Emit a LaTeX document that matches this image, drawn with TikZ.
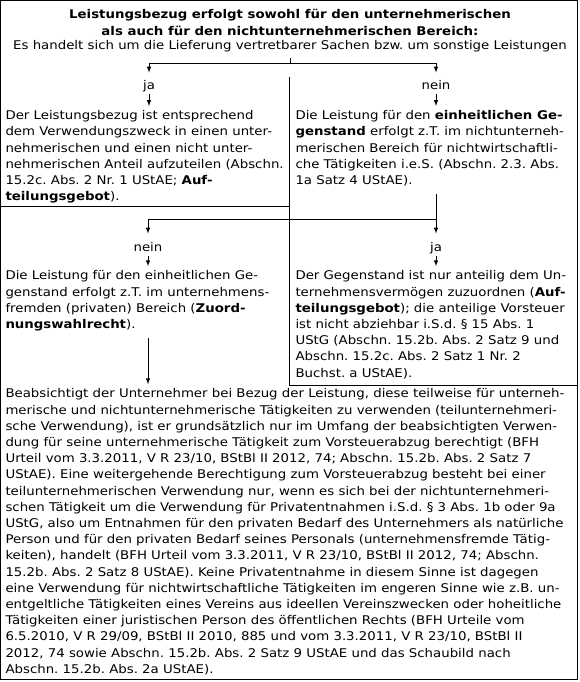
\documentclass[tikz,border=0pt]{standalone}
\usepackage{fontspec}
\setmainfont{DejaVu Sans}[FakeStretch=1.11]
\tikzset{
  arr/.style={-latex},
  lbl/.style={anchor=base,inner sep=0pt,text height=17pt,text depth=4pt},
  txt/.style={anchor=north west,align=left,inner xsep=0pt,inner ysep=4pt,
    execute at begin node=\strut,execute at end node=\strut},
}
\begin{document}
\frenchspacing
\begin{tikzpicture}[x=1pt,y=-1pt,line width=1pt,font=\fontsize{12}{16.2}\selectfont]
\useasboundingbox (0,0) rectangle (579,682);
\draw (0.5,0.5) rectangle (577.5,679.5);

\node[anchor=base,align=center,inner sep=0pt,font=\fontsize{12}{17.4}\selectfont\bfseries] (title) at (290,35.7)
{Leistungsbezug erfolgt sowohl für den unternehmerischen\\als auch für den nichtunternehmerischen Bereich:};
\node[anchor=base,inner sep=0pt,text depth=8.7pt] (sub) at (290,49.3)
{Es handelt sich um die Lieferung vertretbarer Sachen bzw. um sonstige Leistungen};

\foreach \name/\x/\y/\word in {ja/149/90/ja, nein/436/90/nein, nein2/148/251/nein, ja2/436/251/ja}
{
\node[lbl] (\name) at (\x,\y) {\word};
}

\node[txt] (lbox) at (5,106) {Der Leistungsbezug ist entsprechend\\
dem Verwendungszweck in einen unter-\\
nehmerischen und einen nicht unter-\\
nehmerischen Anteil aufzuteilen (Abschn.\\
15.2c. Abs. 2 Nr. 1 UStAE; \textbf{Auf-}\\
\textbf{teilungsgebot}).};
\node[txt] (rbox) at (295,106) {Die Leistung für den \textbf{einheitlichen Ge-}\\
\textbf{genstand} erfolgt z.T. im nichtunterneh-\\
merischen Bereich für nichtwirtschaftli-\\
che Tätigkeiten i.e.S. (Abschn. 2.3. Abs.\\
1a Satz 4 UStAE).};
\node[txt] (llow) at (5,266.2) {Die Leistung für den einheitlichen Ge-\\
genstand erfolgt z.T. im unternehmens-\\
fremden (privaten) Bereich (\textbf{Zuord-}\\
\textbf{nungswahlrecht}).};
\node[txt] (rlow) at (295,266.2) {Der Gegenstand ist nur anteilig dem Un-\\
ternehmensvermögen zuzuordnen (\textbf{Auf-}\\
\textbf{teilungsgebot}); die anteilige Vorsteuer\\
ist nicht abziehbar i.S.d. § 15 Abs. 1\\
UStG (Abschn. 15.2b. Abs. 2 Satz 9 und\\
Abschn. 15.2c. Abs. 2 Satz 1 Nr. 2\\
Buchst. a UStAE).};
\node[txt] (bottom) at (5,384.2) {Beabsichtigt der Unternehmer bei Bezug der Leistung, diese teilweise für unterneh-\\
merische und nichtunternehmerische Tätigkeiten zu verwenden (teilunternehmeri-\\
sche Verwendung), ist er grundsätzlich nur im Umfang der beabsichtigten Verwen-\\
dung für seine unternehmerische Tätigkeit zum Vorsteuerabzug berechtigt (BFH\\
Urteil vom 3.3.2011, V R 23/10, BStBl II 2012, 74; Abschn. 15.2b. Abs. 2 Satz 7\\
UStAE). Eine weitergehende Berechtigung zum Vorsteuerabzug besteht bei einer\\
teilunternehmerischen Verwendung nur, wenn es sich bei der nichtunternehmeri-\\
schen Tätigkeit um die Verwendung für Privatentnahmen i.S.d. § 3 Abs. 1b oder 9a\\
UStG, also um Entnahmen für den privaten Bedarf des Unternehmers als natürliche\\
Person und für den privaten Bedarf seines Personals (unternehmensfremde Tätig-\\
keiten), handelt (BFH Urteil vom 3.3.2011, V R 23/10, BStBl II 2012, 74; Abschn.\\
15.2b. Abs. 2 Satz 8 UStAE). Keine Privatentnahme in diesem Sinne ist dagegen\\
eine Verwendung für nichtwirtschaftliche Tätigkeiten im engeren Sinne wie z.B. un-\\
entgeltliche Tätigkeiten eines Vereins aus ideellen Vereinszwecken oder hoheitliche\\
Tätigkeiten einer juristischen Person des öffentlichen Rechts (BFH Urteile vom\\
6.5.2010, V R 29/09, BStBl II 2010, 885 und vom 3.3.2011, V R 23/10, BStBl II\\
2012, 74 sowie Abschn. 15.2b. Abs. 2 Satz 9 UStAE und das Schaubild nach\\
Abschn. 15.2b. Abs. 2a UStAE).};

\draw (289,77) -- (289,385);
\draw (0,206.5) -- (289,206.5);
\draw (289,385) -- (578,385);

\draw (sub.south) -- ++(0,5) coordinate (fork);
\draw[arr] (fork) -| (ja);
\draw[arr] (fork) -| (nein);
\draw[arr] (ja) -- (ja |- lbox.north);
\draw[arr] (nein) -- (nein |- rbox.north);

\draw[arr] (nein |- rbox.south) -- (ja2);
\coordinate (fork2) at (436,219);
\draw[arr] (fork2) -| (nein2);
\draw[arr] (ja2) -- (ja2 |- rlow.north);
\draw[arr] (nein2) -- (nein2 |- llow.north);
\draw[arr] (nein2 |- llow.south) -- (nein2 |- bottom.north);

\end{tikzpicture}
\end{document}
